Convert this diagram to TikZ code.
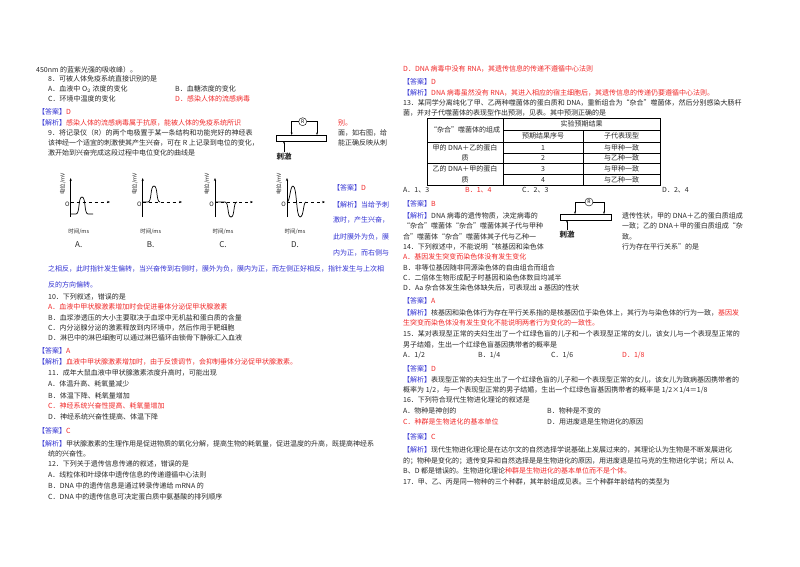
\documentclass[tikz,border=0pt]{standalone}
\usepackage{fontspec}
\setmainfont{Noto Sans CJK SC}
\usetikzlibrary{arrows.meta}
\definecolor{rd}{RGB}{240,40,40}
\definecolor{bl}{RGB}{50,50,210}
\definecolor{tx}{RGB}{40,40,40}
\newcommand\myans{\textcolor{bl}{【答案】}}
\newcommand\myjx{\textcolor{bl}{【解析】}}
\begin{document}
\begin{tikzpicture}[x=1pt,y=-1pt,
  t/.style={anchor=west,inner sep=0pt,text=tx,font=\fontsize{7}{8}\selectfont},
  r/.style={t,text=rd},
  b/.style={t,text=bl},
  ax/.style={-{Stealth[length=3pt]},line width=0.5pt},
  dsh/.style={dashed,line width=0.4pt},
  cv/.style={line width=0.7pt},
  tl/.style={line width=0.5pt}]
\useasboundingbox (0,0) rectangle (800,566);
% left column
\node[t] (l1) at (36,70) {450nm 的蓝紫光强的吸收峰）。};
\node[t] (l2) at (48,79) {8．可被人体免疫系统直接识别的是};
\node[t] (l3) at (48,89) {A．血液中 O$_2$ 浓度的变化};
\node[t] (l3b) at (175,89) {B．血糖浓度的变化};
\node[t] (l4) at (48,99) {C．环境中温度的变化};
\node[r] (l4b) at (175,99) {D．感染人体的流感病毒};
\node[r] (l5) at (38,112) {\myans D};
\node[r] (l6) at (38,123) {\myjx 感染人体的流感病毒属于抗原，能被人体的免疫系统所识};
\node[r] (l6b) at (338,123) {别。};
\node[t] (l7) at (48,133) {9．将记录仪（R）的两个电极置于某一条结构和功能完好的神经表};
\node[t] (l7b) at (338,133) {面，如右图，给};
\node[t] (l8) at (48,143) {该神经一个适宜的刺激使其产生兴奋，可在 R 上记录到电位的变化，};
\node[t] (l8b) at (338,143) {能正确反映从刺};
\node[t] (l9) at (48,153) {激开始到兴奋完成这段过程中电位变化的曲线是};
% device 1
\draw[tl] (276,135) rectangle (326,141);
\node[circle,draw,inner sep=0pt,minimum size=8pt,font=\fontsize{5}{5}\selectfont] (R1) at (302.7,121.7) {R};
\draw[tl,-{Stealth[length=2.5pt]}] (R1.west) -| (291.7,135);
\draw[tl,-{Stealth[length=2.5pt]}] (R1.east) -| (317,135);
\coordinate (s1) at (284,152);
\draw[tl,-{Stealth[length=2.5pt]}] (s1) -- (284,141);
\node[t,anchor=north,font=\fontsize{7.5}{8}\selectfont\bfseries] (cj1) at (284,153) {刺激};
% graphs
\foreach \ox/\xe/\lab in {70.7/110/A., 142.7/182/B., 215/253/C., 287/325/D.}{
  \draw[ax] (\ox,217) -- (\ox,178);
  \draw[dsh,-{Stealth[length=3pt]}] (\ox,202) -- (\xe,202);
  \node[t,anchor=east,font=\fontsize{6}{6}\selectfont\itshape] at (\ox-1,204) {O};
  \node[t,rotate=90,font=\fontsize{5.5}{6}\selectfont] at (\ox-8,195) {电位/mV};
  \node[t,anchor=center,font=\fontsize{5.5}{6}\selectfont] at (\ox+8,232) {时间/ms};
  \node[t,anchor=center,font=\fontsize{8}{8}\selectfont] at (\ox+8,245) {\lab};
}
\draw[cv] (70.7,214) -- (76,214) .. controls (80,214) and (78,197) .. (82,197) .. controls (86,197) and (84,214) .. (88,214) -- (93,214);
\draw[cv] (142.7,202) -- (148,202) .. controls (152,202) and (150,186) .. (154,186) .. controls (158,186) and (156,202) .. (160,202);
\draw[cv] (215,202) -- (225,202) .. controls (229,202) and (227,217) .. (231,217) .. controls (235,217) and (233,202) .. (237,202);
\draw[cv] (287,202) .. controls (290,202) and (290,186) .. (293,186) .. controls (297,186) and (296,217) .. (300,217) .. controls (304,217) and (303,202) .. (306,202);
\node[b] (a9) at (333,188) {【答案】\textcolor{rd}{D}};
\node[b] (j9a) at (333,205) {【解析】当给予刺};
\node[b] (j9b) at (333,220) {激时，产生兴奋，};
\node[b] (j9c) at (333,237) {此时膜外为负，膜};
\node[b] (j9d) at (333,253) {内为正，而右侧与};
\node[b] (j9e) at (48,269) {之相反，此时指针发生偏转，当兴奋传到右侧时，膜外为负，膜内为正，而左侧正好相反，指针发生与上次相};
\node[b] (j9f) at (48,285) {反的方向偏转。};
\node[t] (q10) at (48,297) {10．下列叙述，错误的是};
\node[r] (q10a) at (48,307) {A．血液中甲状腺激素增加时会促进垂体分泌促甲状腺激素};
\node[t] (q10b) at (48,318) {B．血浆渗透压的大小主要取决于血浆中无机盐和蛋白质的含量};
\node[t] (q10c) at (48,328) {C．内分泌腺分泌的激素释放到内环境中，然后作用于靶细胞};
\node[t] (q10d) at (48,338) {D．淋巴中的淋巴细胞可以通过淋巴循环由锁骨下静脉汇入血液};
\node[r] (a10) at (38,351) {\myans A};
\node[r] (j10) at (38,362) {\myjx 血液中甲状腺激素增加时，由于反馈调节，会抑制垂体分泌促甲状腺激素。};
\node[t] (q11) at (48,373) {11．成年大鼠血液中甲状腺激素浓度升高时，可能出现};
\node[t] (q11a) at (48,384) {A．体温升高、耗氧量减少};
\node[t] (q11b) at (48,396) {B．体温下降、耗氧量增加};
\node[r] (q11c) at (48,406) {C．神经系统兴奋性提高、耗氧量增加};
\node[t] (q11d) at (48,417) {D．神经系统兴奋性提高、体温下降};
\node[r] (a11) at (38,431) {\myans C};
\node[t] (j11) at (38,444) {\myjx 甲状腺激素的生理作用是促进物质的氧化分解，提高生物的耗氧量，促进温度的升高，既提高神经系};
\node[t] (j11b) at (48,454) {统的兴奋性。};
\node[t] (q12) at (48,464) {12．下列关于遗传信息传递的叙述，错误的是};
\node[t] (q12a) at (48,475) {A．线粒体和叶绿体中遗传信息的传递遵循中心法则};
\node[t] (q12b) at (48,486) {B．DNA 中的遗传信息是通过转录传递给 mRNA 的};
\node[t] (q12c) at (48,497) {C．DNA 中的遗传信息可决定蛋白质中氨基酸的排列顺序};
% right column
\node[r] (q12d) at (403,69) {D．DNA 病毒中没有 RNA，其遗传信息的传递不遵循中心法则};
\node[r] (a12) at (403,82) {\myans D};
\node[r] (j12) at (403,93) {\myjx DNA 病毒虽然没有 RNA，其进入相应的宿主细胞后，其遗传信息的传递仍要遵循中心法则。};
\node[t] (q13) at (403,103) {13．某同学分离纯化了甲、乙两种噬菌体的蛋白质和 DNA，重新组合为“杂合”噬菌体，然后分别感染大肠杆};
\node[t] (q13b) at (403,113) {菌，并对子代噬菌体的表现型作出预测，见表。其中预测正确的是};
% table
\draw[tl] (427,118) rectangle (660,185);
\draw[tl] (503,118) -- (503,185);
\draw[tl] (503,130) -- (660,130);
\draw[tl] (583,130) -- (583,185);
\draw[tl] (427,142) -- (660,142);
\draw[tl] (503,153) -- (660,153);
\draw[tl] (427,163) -- (660,163);
\draw[tl] (503,174) -- (660,174);
\node[t,anchor=center] (h1) at (465,130) {“杂合”噬菌体的组成};
\node[t,anchor=center] (h2) at (581.5,124) {实验预期结果};
\node[t,anchor=center] (h3) at (543,136) {预期结果序号};
\node[t,anchor=center] (h4) at (621.5,136) {子代表现型};
\node[t,anchor=center] (r1) at (465,147.5) {甲的 DNA＋乙的蛋白};
\node[t,anchor=center] (r1b) at (465,158) {质};
\node[t,anchor=center] (r2) at (465,168.5) {乙的 DNA＋甲的蛋白};
\node[t,anchor=center] (r2b) at (465,179.5) {质};
\foreach \yy/\n/\s in {147.5/1/与甲种一致, 158/2/与乙种一致, 168.5/3/与甲种一致, 179.5/4/与乙种一致}{
  \node[t,anchor=center] at (543,\yy) {\n};
  \node[t,anchor=center] at (621.5,\yy) {\s};
}
\node[t] (o13a) at (403,190) {A．1、3};
\node[r] (o13b) at (465,190) {B．1、4};
\node[t] (o13c) at (522,190) {C．2、3};
\node[t] (o13d) at (662,190) {D．2、4};
\node[r] (a13) at (403,204) {\myans B};
\node[t] (j13) at (403,216) {\myjx DNA 病毒的遗传物质，决定病毒的};
\node[t] (j13r) at (622,216) {遗传性状，甲的 DNA＋乙的蛋白质组成};
\node[t] (j13b) at (403,226) {“杂合”噬菌体“杂合”噬菌体其子代与甲种};
\node[t] (j13rb) at (622,226) {一致；乙的 DNA＋甲的蛋白质组成“杂};
\node[t] (j13c) at (403,237) {合”噬菌体“杂合”噬菌体其子代与乙种一};
\node[t] (j13rc) at (622,237) {致。};
% device 2
\draw[tl] (560,214) rectangle (611,220);
\node[circle,draw,inner sep=0pt,minimum size=8pt,font=\fontsize{5}{5}\selectfont] (R2) at (589,202) {R};
\draw[tl,-{Stealth[length=2.5pt]}] (R2.west) -| (575,214);
\draw[tl,-{Stealth[length=2.5pt]}] (R2.east) -| (604,214);
\coordinate (s2) at (567,230);
\draw[tl,-{Stealth[length=2.5pt]}] (s2) -- (567,220);
\node[t,anchor=north,font=\fontsize{7.5}{8}\selectfont\bfseries] (cj2) at (567,231) {刺激};
\node[t] (q14) at (403,247) {14．下列叙述中，不能说明“核基因和染色体};
\node[t] (q14r) at (622,247) {行为存在平行关系”的是};
\node[r] (q14a) at (403,257) {A．基因发生突变而染色体没有发生变化};
\node[t] (q14b) at (403,268) {B．非等位基因随非同源染色体的自由组合而组合};
\node[t] (q14c) at (403,278) {C．二倍体生物形成配子时基因和染色体数目均减半};
\node[t] (q14d) at (403,288) {D．Aa 杂合体发生染色体缺失后，可表现出 a 基因的性状};
\node[r] (a14) at (403,301) {\myans A};
\node[t] (j14) at (403,313) {\myjx 核基因和染色体行为存在平行关系指的是核基因位于染色体上，其行为与染色体的行为一致，\textcolor{rd}{基因发}};
\node[r] (j14b) at (403,323) {生突变而染色体没有发生变化不能说明两者行为变化的一致性。};
\node[t] (q15) at (403,334) {15．某对表现型正常的夫妇生出了一个红绿色盲的儿子和一个表现型正常的女儿，该女儿与一个表现型正常的};
\node[t] (q15b) at (403,345) {男子结婚，生出一个红绿色盲基因携带者的概率是};
\node[t] (o15a) at (403,355) {A．1/2};
\node[t] (o15b) at (478,355) {B．1/4};
\node[t] (o15c) at (551,355) {C．1/6};
\node[r] (o15d) at (622,355) {D．1/8};
\node[r] (a15) at (403,369) {\myans D};
\node[t] (j15) at (403,380) {\myjx 表现型正常的夫妇生出了一个红绿色盲的儿子和一个表现型正常的女儿，该女儿为致病基因携带者的};
\node[t] (j15b) at (403,390) {概率为 1/2，与一个表现型正常的男子结婚，生出一个红绿色盲基因携带者的概率是 1/2×1/4＝1/8};
\node[t] (q16) at (403,400) {16．下列符合现代生物进化理论的叙述是};
\node[t] (q16a) at (403,411) {A．物种是神创的};
\node[t] (q16b) at (547,411) {B．物种是不变的};
\node[r] (q16c) at (403,422) {C．种群是生物进化的基本单位};
\node[t] (q16d) at (547,422) {D．用进废退是生物进化的原因};
\node[r] (a16) at (403,437) {\myans C};
\node[t] (j16) at (403,450) {\myjx 现代生物进化理论是在达尔文的自然选择学说基础上发展过来的，其理论认为生物是不断发展进化};
\node[t] (j16b) at (403,461) {的；物种是变化的；遗传变异和自然选择是是生物进化的原因，用进废退是拉马克的生物进化学说；所以 A、};
\node[t] (j16c) at (403,471) {B、D 都是错误的。生物进化理论\textcolor{rd}{种群是生物进化的基本单位而不是个体。}};
\node[t] (q17) at (403,482) {17．甲、乙、丙是同一物种的三个种群，其年龄组成见表。三个种群年龄结构的类型为};
\end{tikzpicture}
\end{document}
